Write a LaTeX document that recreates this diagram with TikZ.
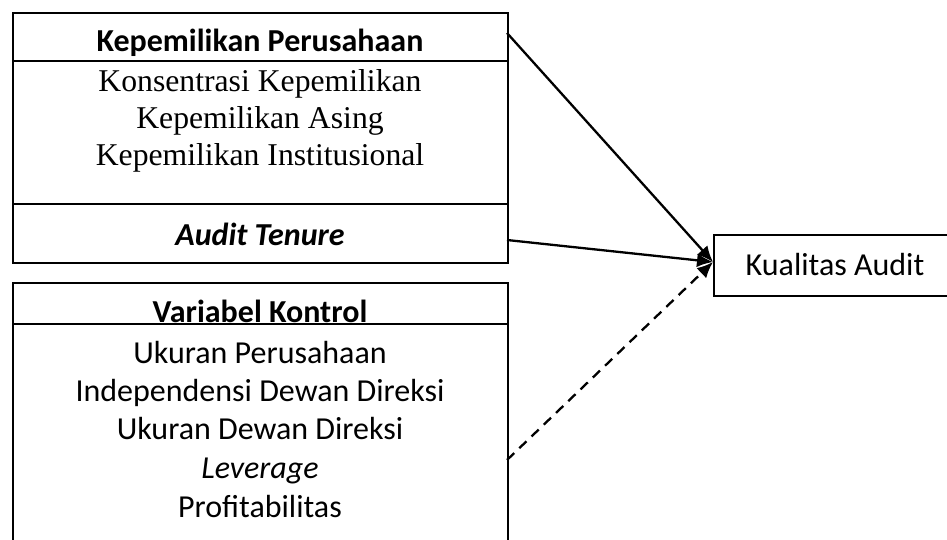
\documentclass[tikz,border=0pt]{standalone}
\usepackage{fontspec}
\setmainfont{Liberation Serif}
\newfontfamily\carlito{Carlito}
\usetikzlibrary{arrows.meta}
\begin{document}
\begin{tikzpicture}[x=1pt,y=-1pt, line width=1.9pt,
  box/.style={draw, rectangle, inner sep=0pt, anchor=north west},
  sanslabel/.style={font=\carlito\fontsize{32}{38}\selectfont, inner sep=0pt, anchor=base},
  seriflabel/.style={font=\fontsize{31.7}{38}\selectfont, inner sep=0pt, anchor=base},
  conn/.style={-{Latex[length=16pt,width=14pt]}, line width=2.3pt},
  dconn/.style={conn, dash pattern=on 10pt off 7pt}]
\useasboundingbox (0,0) rectangle (947,540);
% boxes
\node[box, minimum width=495pt, minimum height=250pt] (kp) at (12,12) {};
\node[box, minimum width=495pt, minimum height=270pt] (vk) at (12,282) {};
\node[box, minimum width=260pt, minimum height=61pt] (ka) at (713,234) {};
% dividers
\draw (12,61) -- (507,61);
\draw (12,204) -- (507,204);
\draw (12,324) -- (507,324);
% texts
\node[sanslabel] (h1) at (260,52) {\bfseries Kepemilikan Perusahaan};
\node[seriflabel] (k1) at (260,92) {Konsentrasi Kepemilikan};
\node[seriflabel] (k2) at (260,129) {Kepemilikan Asing};
\node[seriflabel] (k3) at (260,166) {Kepemilikan Institusional};
\node[sanslabel] (at) at (260,245) {\bfseries\itshape Audit Tenure};
\node[sanslabel] (h2) at (260,322) {\bfseries Variabel Kontrol};
\node[sanslabel] (v1) at (260,363) {Ukuran Perusahaan};
\node[sanslabel] (v2) at (260,401) {Independensi Dewan Direksi};
\node[sanslabel] (v3) at (260,439) {Ukuran Dewan Direksi};
\node[sanslabel] (v4) at (260,478) {\itshape Leverage};
\node[sanslabel] (v5) at (260,517) {Profitabilitas};
\node[sanslabel] (kat) at (835,275) {Kualitas Audit};
% connectors
\coordinate (tip) at (713,262);
\coordinate (s1) at (507,33);
\coordinate (s2) at (507,240);
\coordinate (s3) at (507,460);
\draw[conn] (s1) -- (tip);
\draw[conn] (s2) -- (tip);
\draw[dconn] (s3) -- (tip);
\end{tikzpicture}
\end{document}
